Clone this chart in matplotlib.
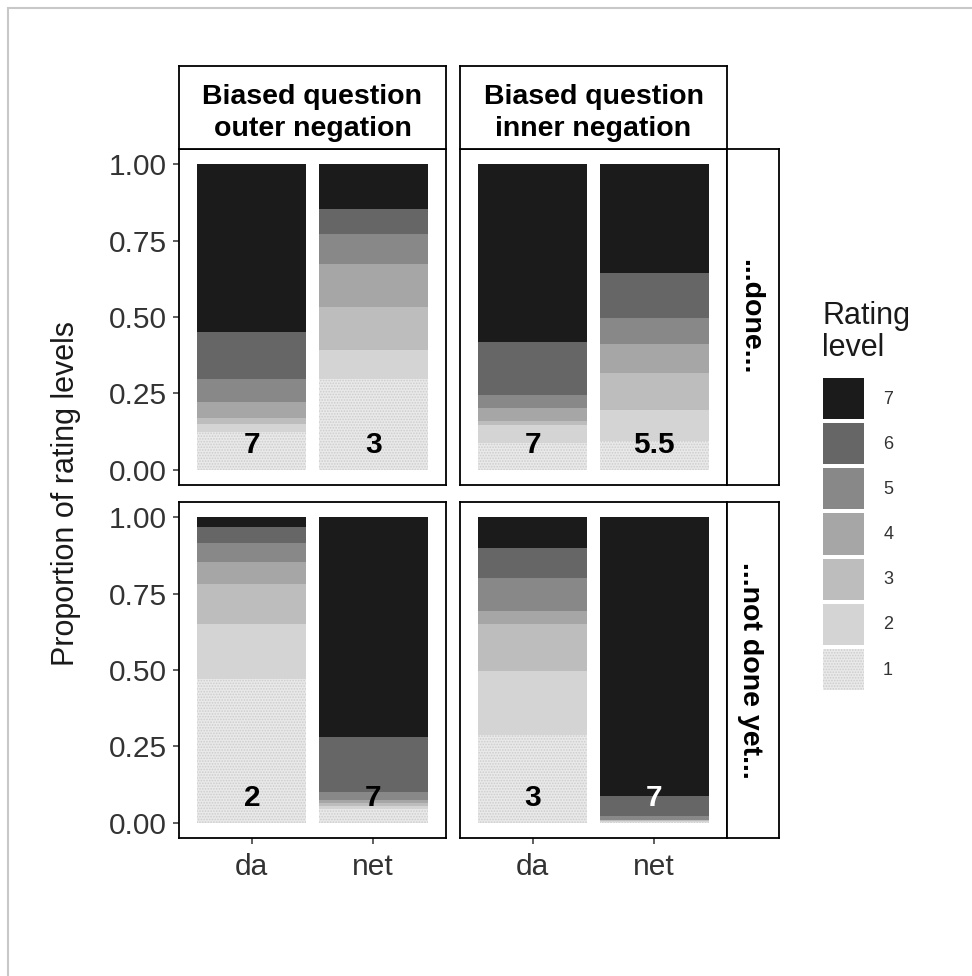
import numpy as np
import matplotlib
matplotlib.use("Agg")
import matplotlib.pyplot as plt
from matplotlib.patches import Patch, Rectangle

plt.rcParams['font.family'] = ['Liberation Sans', 'DejaVu Sans']
plt.rcParams['hatch.color'] = '#cdcdcd'
plt.rcParams['hatch.linewidth'] = 0.8

# data: proportion of each rating level (1..7), bottom to top
levels = [1, 2, 3, 4, 5, 6, 7]
answers = ['da', 'net']
questions = ['Biased question\nouter negation', 'Biased question\ninner negation']
contexts = ['...done...', '...not done yet...']

outer_done_da = [0.125, 0.024, 0.020, 0.052, 0.076, 0.154, 0.549]
outer_done_net = [0.297, 0.095, 0.142, 0.141, 0.097, 0.082, 0.146]
inner_done_da = [0.087, 0.058, 0.013, 0.044, 0.044, 0.173, 0.581]
inner_done_net = [0.094, 0.100, 0.123, 0.096, 0.083, 0.148, 0.356]
outer_notyet_da = [0.470, 0.179, 0.133, 0.071, 0.064, 0.050, 0.033]
outer_notyet_net = [0.046, 0.008, 0.011, 0.008, 0.028, 0.180, 0.719]
inner_notyet_da = [0.287, 0.209, 0.153, 0.044, 0.109, 0.096, 0.102]
inner_notyet_net = [0.004, 0.002, 0.002, 0.002, 0.011, 0.067, 0.912]

# median rating shown on each bar
medians_outer_done = ['7', '3']
medians_inner_done = ['7', '5.5']
medians_outer_notyet = ['2', '7']
medians_inner_notyet = ['3', '7']

level_colors = ['#e9e9e9', '#d4d4d4', '#bdbdbd', '#a6a6a6', '#888888', '#666666', '#1b1b1b']

panels = [
    [(outer_done_da, outer_done_net, medians_outer_done, ['black', 'black']),
     (inner_done_da, inner_done_net, medians_inner_done, ['black', 'black'])],
    [(outer_notyet_da, outer_notyet_net, medians_outer_notyet, ['black', 'black']),
     (inner_notyet_da, inner_notyet_net, medians_inner_notyet, ['black', 'white'])],
]

W, H = 972, 976
fig = plt.figure(figsize=(W / 100, H / 100), dpi=100)

# outer grey frame of the original screenshot
fig.patches.append(Rectangle((8 / W, -0.1), 1.2, 1.1 - 8 / H, transform=fig.transFigure,
                             fill=False, edgecolor='#c8c8c8', lw=1.5))

col_x = [179 / W, 460 / W]
pw = 267 / W
row_y = [(H - 485) / H, (H - 838) / H]
ph = 336 / H

tick_col = '#333333'
x = np.arange(len(answers))

for r in range(2):
    for c in range(2):
        ax = fig.add_axes([col_x[c], row_y[r], pw, ph])
        da, net, meds, lab_cols = panels[r][c]
        data = np.array([da, net])
        bottom = np.zeros(len(answers))
        for i, lev in enumerate(levels):
            if lev == 1:
                ax.bar(x, data[:, i], bottom=bottom, width=0.9, color=level_colors[i],
                       linewidth=0, hatch='......')
            else:
                ax.bar(x, data[:, i], bottom=bottom, width=0.9, color=level_colors[i],
                       edgecolor='none')
            bottom += data[:, i]
        for j in range(len(answers)):
            ax.text(x[j], 0.08, meds[j], ha='center', va='center', fontsize=21.5,
                    fontweight='bold', color=lab_cols[j])
        ax.set_xlim(-0.6, 1.6)
        ax.set_ylim(-0.05, 1.05)
        for s in ax.spines.values():
            s.set_color('black')
            s.set_linewidth(1.3)
        ax.set_yticks([0, 0.25, 0.5, 0.75, 1.0])
        ax.set_xticks(x)
        ax.tick_params(length=4, width=1.1, color=tick_col, labelcolor=tick_col, labelsize=21.5)
        ax.tick_params(axis='y', pad=5)
        ax.tick_params(axis='x', pad=7)
        if c == 0:
            ax.set_yticklabels(['0.00', '0.25', '0.50', '0.75', '1.00'])
        else:
            ax.tick_params(axis='y', left=False, labelleft=False)
        if r == 1:
            ax.set_xticklabels(answers)
        else:
            ax.tick_params(axis='x', bottom=False, labelbottom=False)

        # facet strips
        if r == 0:
            sax = fig.add_axes([col_x[c], (H - 149) / H, pw, 83 / H])
            sax.set_xticks([])
            sax.set_yticks([])
            for s in sax.spines.values():
                s.set_linewidth(1.3)
            sax.text(0.5, 0.43, questions[c], ha='center', va='center', fontsize=20.5,
                     fontweight='bold', linespacing=1.3, transform=sax.transAxes)
        if c == 1:
            rax = fig.add_axes([727 / W, row_y[r], 52 / W, ph])
            rax.set_xticks([])
            rax.set_yticks([])
            for s in rax.spines.values():
                s.set_linewidth(1.3)
            rax.text(0.45, 0.5, contexts[r], ha='center', va='center', rotation=270,
                     fontsize=20.5, fontweight='bold', transform=rax.transAxes)

fig.text(66 / W, (H - 493) / H, 'Proportion of rating levels', rotation=90, ha='center',
         va='center', fontsize=22, color='#1a1a1a')

# legend
fig.text(822 / W, (H - 332) / H, 'Rating\nlevel', ha='left', va='center', fontsize=22,
         linespacing=1.05, color='#1a1a1a')
handles = []
for i in range(len(levels) - 1, -1, -1):
    if levels[i] == 1:
        handles.append(Patch(facecolor=level_colors[i], linewidth=0, hatch='......'))
    else:
        handles.append(Patch(facecolor=level_colors[i], edgecolor='none'))
leg = fig.legend(handles, [str(l) for l in levels[::-1]],
                 loc='upper left', bbox_to_anchor=(823 / W, (H - 378) / H), frameon=False,
                 fontsize=13, handlelength=2.28, handleheight=3.13, borderpad=0,
                 borderaxespad=0, labelspacing=0.22, handletextpad=1.05)
for t in leg.get_texts():
    t.set_color('#333333')

fig.savefig('out.png', dpi=100)
